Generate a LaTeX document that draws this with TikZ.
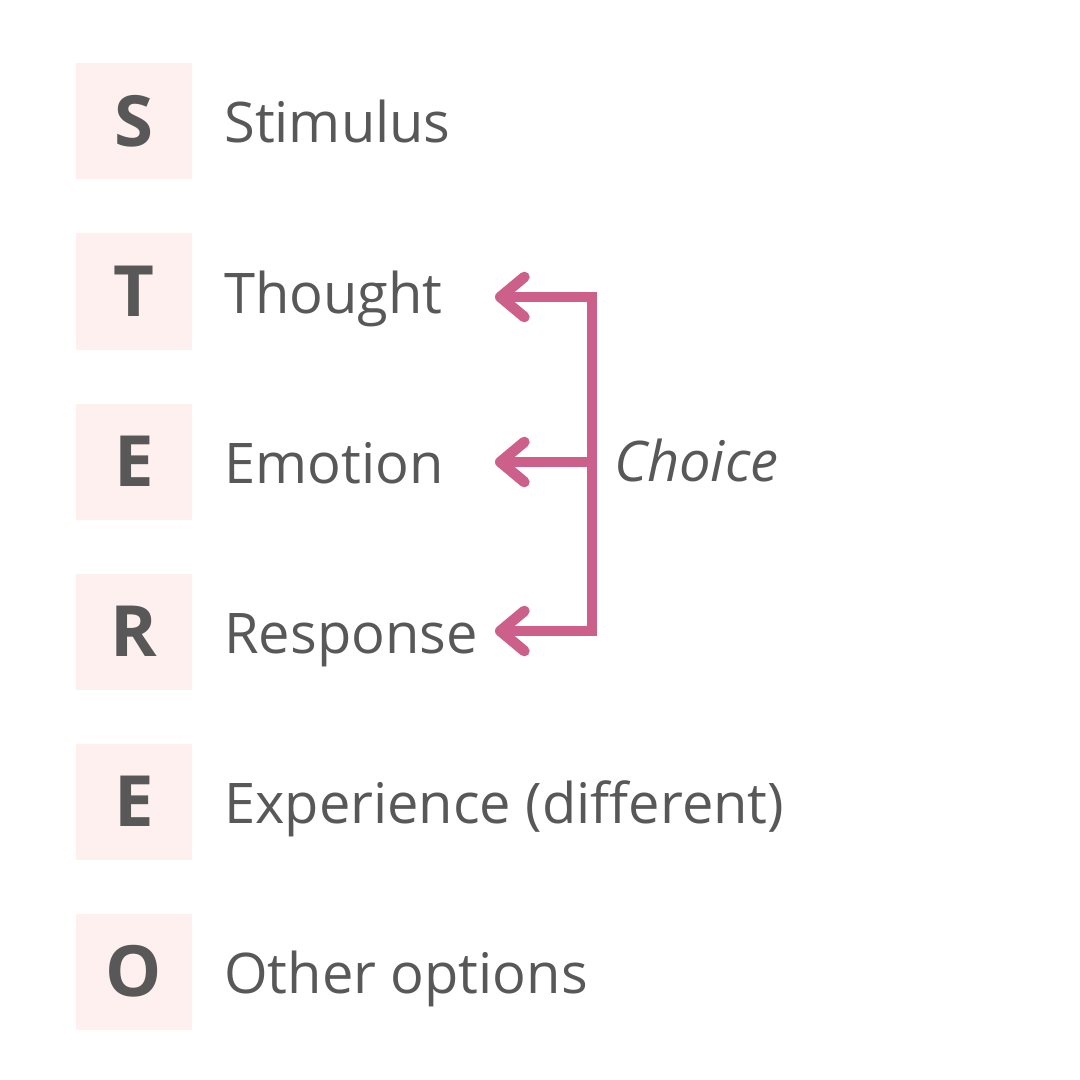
\documentclass[tikz,border=0pt]{standalone}
\usepackage{fontspec}
\setmainfont{Open Sans}
\usetikzlibrary{arrows.meta}

\definecolor{stereogray}{RGB}{88,88,88}
\definecolor{stereopink}{RGB}{204,96,138}
\definecolor{stereobox}{RGB}{253,240,239}

\tikzset{
	letterbox/.style={fill=stereobox, minimum size=87pt, inner sep=0pt, text=stereogray,
		font=\fontsize{53}{53}\selectfont\bfseries, text height=38pt, text depth=0pt},
	wordlabel/.style={anchor=base west, inner sep=0pt, text=stereogray,
		font=\fontsize{42}{42}\selectfont},
	choicetip/.tip={Straight Barb[length=18pt, width=30pt, round]},
	choicearrow/.style={draw=stereopink, line width=8pt, line join=miter}}

\begin{document}
\begin{tikzpicture}[x=0.75pt,y=0.75pt,yscale=-1,xscale=1]
	\useasboundingbox (0,0) rectangle (1080,1080);

	% Letter Boxes
	\node [letterbox] (ls) at (134,121.5) {S};
	\node [letterbox] (lt) at (134,291.5) {T};
	\node [letterbox] (le) at (134,461.5) {E};
	\node [letterbox] (lr) at (134,631.5) {R};
	\node [letterbox] (lx) at (134,801.5) {E};
	\node [letterbox] (lo) at (134,971.5) {O};

	% Text Node
	\node [wordlabel] (stimulus) at (224,143) {Stimulus};
	% Text Node
	\node [wordlabel] (thought) at (224,313) {Thought};
	% Text Node
	\node [wordlabel] (emotion) at (224,483) {Emotion};
	% Text Node
	\node [wordlabel] (response) at (224,653) {Response};
	% Text Node
	\node [wordlabel] (experience) at (224,823) {Experience (different)};
	% Text Node
	\node [wordlabel] (options) at (224,993) {Other options};
	% Text Node
	\node [wordlabel, font=\fontsize{42}{42}\selectfont\itshape] (choice) at (614,481) {Choice};

	% Choice bracket
	\coordinate (tipt) at (495,297);
	\coordinate (tipe) at (495,462);
	\coordinate (tipr) at (495,631);
	\coordinate (bart) at (592,297);
	\coordinate (bare) at (592,462);
	\coordinate (barr) at (592,631);
	\draw [choicearrow, {choicetip}-{choicetip}] (tipt) -- (bart) -- (barr) -- (tipr);
	\draw [choicearrow, -{choicetip}] (bare) -- (tipe);

\end{tikzpicture}
\end{document}
